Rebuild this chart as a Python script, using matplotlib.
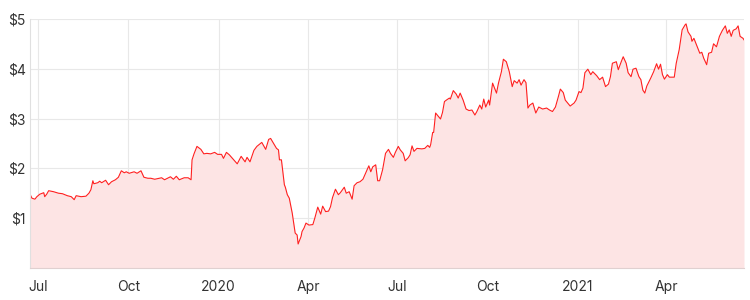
import pandas as pd
import matplotlib.pyplot as plt

plt.rcParams['font.family'] = ['Inter', 'DejaVu Sans']

start = pd.Timestamp('2019-07-01')

# days after 1 Jul 2019
days = [-8, -6, -3, -1, 2, 6, 7, 9, 11, 16, 21, 25, 30, 34, 37, 39, 44, 49, 52, 54,
        56, 57, 61, 63, 65, 69, 72, 75, 79, 82, 85, 88, 90, 93, 98, 101, 105, 108, 112, 115,
        119, 126, 129, 135, 138, 141, 144, 149, 153, 156, 157, 159, 162, 166, 169, 172, 176, 180, 183, 187,
        189, 192, 195, 199, 203, 207, 211, 213, 216, 220, 223, 228, 232, 235, 237, 240, 243, 245, 246, 248,
        251, 252, 254, 256, 259, 262, 264, 265, 268, 269, 271, 273, 276, 280, 282, 285, 288, 290, 293, 296,
        298, 300, 303, 306, 308, 312, 314, 317, 320, 322, 325, 328, 331, 333, 337, 339, 341, 344, 346, 348,
        351, 354, 357, 359, 362, 364, 367, 369, 372, 374, 377, 379, 381, 383, 386, 391, 394, 397, 399, 400,
        402, 403, 405, 408, 410, 412, 414, 416, 419, 420, 423, 426, 428, 430, 433, 436, 439, 442, 445, 447,
        450, 452, 454, 456, 459, 460, 463, 467, 469, 472, 474, 477, 480, 483, 485, 488, 490, 492, 495, 497,
        499, 501, 504, 507, 510, 514, 518, 521, 524, 527, 530, 532, 535, 537, 542, 546, 548, 551, 553, 555,
        557, 560, 563, 565, 569, 572, 575, 578, 581, 583, 585, 589, 591, 594, 596, 599, 601, 604, 606, 609,
        612, 614, 616, 618, 620, 624, 627, 630, 632, 634, 636, 638, 641, 643, 648, 650, 653, 654, 656, 659,
        660, 662, 665, 666, 668, 670, 672, 674, 676, 678, 681, 683, 686, 688, 691, 694, 697, 700, 702, 704,
        706, 708, 711, 713, 715, 718, 719]

price = [1.48, 1.40, 1.38, 1.43, 1.48, 1.51, 1.43, 1.48, 1.55, 1.53, 1.50, 1.49, 1.45, 1.43, 1.37, 1.45, 1.43, 1.44, 1.50, 1.57,
         1.75, 1.69, 1.71, 1.74, 1.71, 1.76, 1.67, 1.73, 1.77, 1.82, 1.95, 1.91, 1.93, 1.90, 1.93, 1.90, 1.95, 1.82, 1.80, 1.80,
         1.78, 1.81, 1.77, 1.83, 1.78, 1.84, 1.77, 1.81, 1.81, 1.77, 2.17, 2.29, 2.44, 2.38, 2.29, 2.30, 2.29, 2.32, 2.28, 2.28,
         2.20, 2.32, 2.27, 2.18, 2.09, 2.24, 2.13, 2.22, 2.13, 2.36, 2.44, 2.52, 2.38, 2.58, 2.60, 2.50, 2.40, 2.37, 2.17, 2.17,
         1.67, 1.62, 1.47, 1.40, 1.10, 0.70, 0.66, 0.48, 0.63, 0.73, 0.80, 0.90, 0.86, 0.87, 1.00, 1.22, 1.08, 1.24, 1.13, 1.14,
         1.23, 1.41, 1.58, 1.47, 1.51, 1.62, 1.50, 1.53, 1.38, 1.65, 1.71, 1.73, 1.78, 1.87, 2.05, 1.93, 2.03, 2.07, 1.75, 1.75,
         1.97, 2.30, 2.38, 2.30, 2.22, 2.32, 2.44, 2.37, 2.30, 2.15, 2.21, 2.27, 2.45, 2.34, 2.40, 2.39, 2.40, 2.46, 2.42, 2.48,
         2.72, 2.72, 3.11, 3.04, 2.99, 3.12, 3.34, 3.37, 3.41, 3.39, 3.56, 3.49, 3.41, 3.51, 3.37, 3.19, 3.16, 3.17, 3.07, 3.14,
         3.27, 3.19, 3.39, 3.23, 3.37, 3.27, 3.71, 3.51, 3.71, 3.94, 4.19, 4.14, 3.94, 3.64, 3.76, 3.71, 3.78, 3.67, 3.78, 3.72,
         3.21, 3.27, 3.31, 3.11, 3.23, 3.19, 3.21, 3.17, 3.14, 3.23, 3.44, 3.59, 3.52, 3.37, 3.25, 3.31, 3.37, 3.54, 3.52, 3.61,
         3.92, 3.99, 3.88, 3.94, 3.86, 3.78, 3.83, 3.64, 3.69, 3.84, 4.11, 4.14, 3.98, 4.14, 4.24, 4.11, 3.92, 3.84, 3.99, 4.01,
         3.84, 3.78, 3.57, 3.51, 3.65, 3.81, 3.94, 4.10, 3.99, 4.09, 3.88, 3.79, 3.88, 3.83, 3.83, 4.11, 4.38, 4.51, 4.78, 4.88,
         4.90, 4.74, 4.65, 4.55, 4.61, 4.51, 4.41, 4.31, 4.33, 4.21, 4.08, 4.31, 4.33, 4.50, 4.44, 4.65, 4.77, 4.86, 4.71, 4.78,
         4.65, 4.77, 4.80, 4.86, 4.65, 4.61, 4.58]

tick_dates = ['2019-07-01', '2019-10-01', '2020-01-01', '2020-04-01',
              '2020-07-01', '2020-10-01', '2021-01-01', '2021-04-01']
tick_labels = ['Jul', 'Oct', '2020', 'Apr', 'Jul', 'Oct', '2021', 'Apr']
y_ticks = [1, 2, 3, 4, 5]

dates = start + pd.to_timedelta(days, unit='D')

fig = plt.figure(figsize=(7.5, 3), dpi=100)
ax = fig.add_axes([0.04, 0.107, 0.952, 0.83])

ax.fill_between(dates, price, 0, color='#fde4e4', linewidth=0)
ax.plot(dates, price, color='#ff2020', linewidth=0.8)

ax.set_xlim(dates[0], dates[-1])
ax.set_ylim(0, 5)

ax.set_xticks(pd.to_datetime(tick_dates))
ax.set_xticklabels(tick_labels)
ax.set_yticks(y_ticks)
ax.set_yticklabels(['$%d' % v for v in y_ticks])

ax.grid(True, color='#e8e8e8', linewidth=0.8)
ax.set_axisbelow(True)
ax.tick_params(length=0, labelsize=10, labelcolor='#333333')
ax.tick_params(axis='x', pad=9)
ax.tick_params(axis='y', pad=3)

for side in ['top', 'right']:
    ax.spines[side].set_visible(False)
ax.spines['left'].set_color('#e0e0e0')
ax.spines['bottom'].set_color('#e0d0d0')

fig.savefig('out.png', dpi=100)
